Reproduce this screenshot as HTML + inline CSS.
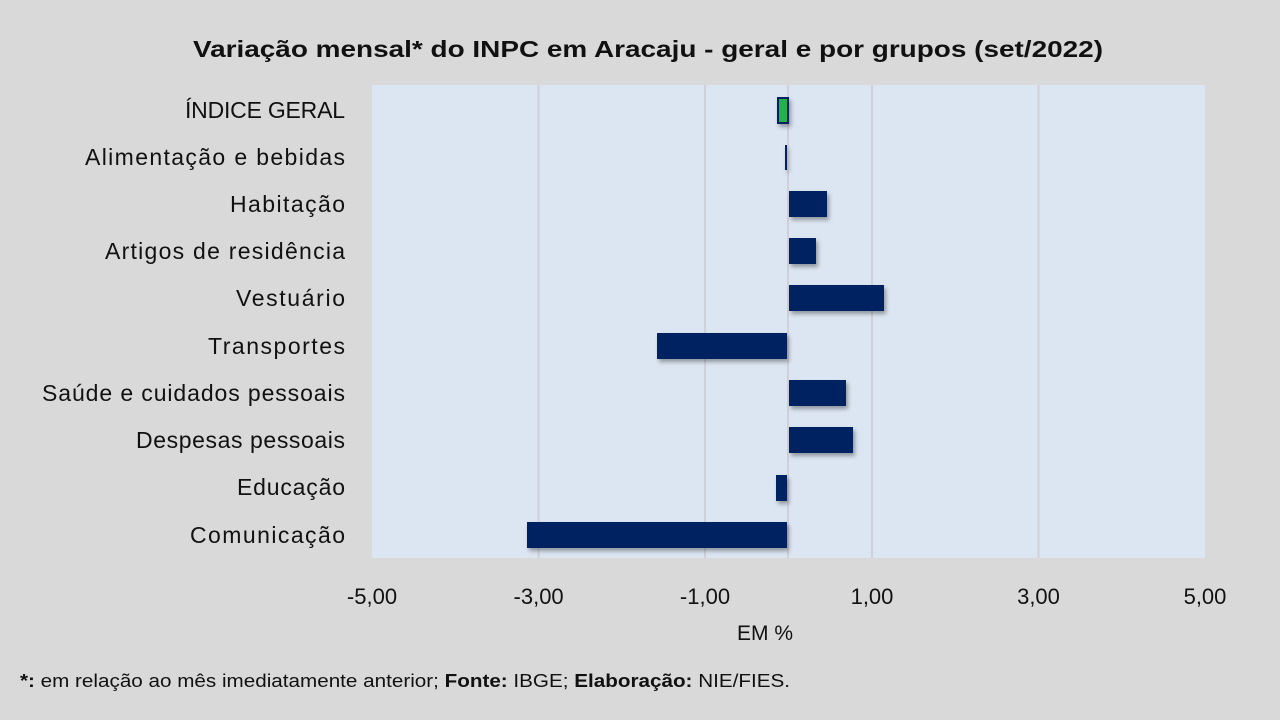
<!DOCTYPE html>
<html><head><meta charset="utf-8"><style>
html,body{margin:0;padding:0;background:#d9d9d9;}
svg{display:block;font-family:"Liberation Sans",Calibri,sans-serif;}
</style></head><body>
<svg width="1280" height="720" viewBox="0 0 1280 720" xmlns="http://www.w3.org/2000/svg">
<defs><filter id="sh" x="-20%" y="-20%" width="140%" height="160%"><feDropShadow dx="2" dy="3" stdDeviation="2" flood-color="#000" flood-opacity="0.35"/></filter></defs>
<rect width="1280" height="720" fill="#d9d9d9"/>
<text x="193" y="57" font-size="23" font-weight="bold" fill="#111" textLength="910" lengthAdjust="spacingAndGlyphs">Variação  mensal*  do INPC em Aracaju  - geral e por grupos  (set/2022)</text>
<rect x="372" y="85" width="833" height="473" fill="#dce6f2"/>
<g stroke="#d0d0d8" stroke-width="2">
<line x1="538.6" y1="85" x2="538.6" y2="558"/><line x1="705" y1="85" x2="705" y2="558"/>
<line x1="872" y1="85" x2="872" y2="558"/><line x1="1038.5" y1="85" x2="1038.5" y2="558"/>
<line x1="788" y1="85" x2="788" y2="558"/>
</g>
<g fill="#002060" filter="url(#sh)">
<rect x="778" y="98" width="10" height="25" fill="#22b14c" stroke="#002060" stroke-width="2"/>
<rect x="785" y="145" width="2" height="25"/>
<rect x="789" y="191" width="38" height="26"/>
<rect x="789" y="238" width="27" height="26"/>
<rect x="789" y="285" width="95" height="26"/>
<rect x="657" y="333" width="130" height="26"/>
<rect x="789" y="380" width="57" height="26"/>
<rect x="789" y="427" width="64" height="26"/>
<rect x="776" y="475" width="11" height="26"/>
<rect x="527" y="522" width="260" height="26"/>
</g>
<g font-size="23" fill="#111" lengthAdjust="spacingAndGlyphs">
<text x="185" y="118" textLength="160">ÍNDICE GERAL</text>
<text x="85" y="165" textLength="260">Alimentação e bebidas</text>
<text x="230" y="212" textLength="115">Habitação</text>
<text x="105" y="259" textLength="240">Artigos de residência</text>
<text x="236" y="306" textLength="109">Vestuário</text>
<text x="208" y="354" textLength="137">Transportes</text>
<text x="42" y="401" textLength="303">Saúde e cuidados pessoais</text>
<text x="136" y="448" textLength="209">Despesas pessoais</text>
<text x="237" y="495" textLength="108">Educação</text>
<text x="190" y="543" textLength="155">Comunicação</text>
</g>
<g font-size="22" fill="#111" text-anchor="middle">
<text x="372" y="604">-5,00</text><text x="538.6" y="604">-3,00</text><text x="705" y="604">-1,00</text>
<text x="872" y="604">1,00</text><text x="1038.5" y="604">3,00</text><text x="1205" y="604">5,00</text>
<text x="765" y="640" font-size="21">EM %</text>
</g>
<text x="20" y="687" font-size="18" fill="#111" textLength="770" lengthAdjust="spacingAndGlyphs"><tspan font-weight="bold">*:</tspan> em relação ao mês imediatamente  anterior; <tspan font-weight="bold">Fonte:</tspan> IBGE; <tspan font-weight="bold">Elaboração:</tspan> NIE/FIES.</text>
</svg>
</body></html>
